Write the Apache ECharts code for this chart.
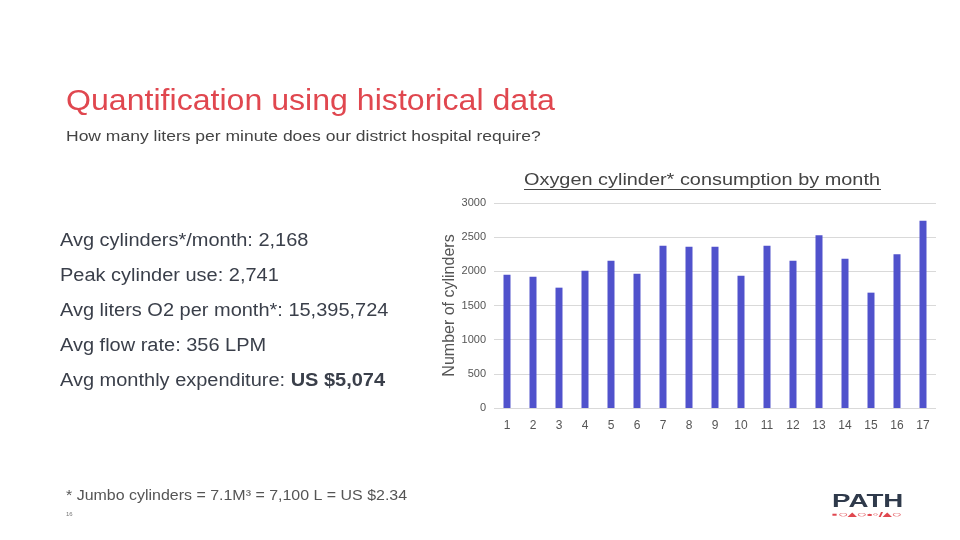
<!DOCTYPE html>
<html>
<head>
<meta charset="utf-8">
<style>
  html, body { margin: 0; padding: 0; background: #fff; }
  #main { width: 960px; height: 540px; }
</style>
<script src="https://cdn.jsdelivr.net/npm/echarts@6/dist/echarts.min.js"></script>
</head>
<body>
<div id="main"></div>
<script>
// months 1..17 and cylinders used per month
var months = ['1', '2', '3', '4', '5', '6', '7', '8', '9', '10', '11', '12', '13', '14', '15', '16', '17'];
var cylinders = [1951, 1922, 1761, 2010, 2156, 1966, 2376, 2361, 2361, 1937, 2376, 2156, 2527, 2185, 1688, 2249, 2741];
var yTicks = [0, 500, 1000, 1500, 2000, 2500, 3000];

var facts = [
    'Avg cylinders*/month: 2,168',
    'Peak cylinder use: 2,741',
    'Avg liters O2 per month*: 15,395,724',
    'Avg flow rate: 356 LPM',
    'Avg monthly expenditure: {b|US $5,074}'
];

var font = '"Liberation Sans", Arial, sans-serif';
var chart = echarts.init(document.getElementById('main'));

// text is a bit wider than Liberation Sans in the slide, so stretch it
function label(x, y, text, size, color, sx, extra) {
    var style = {
        text: text, x: 0, y: 0, fill: color, font: size + 'px ' + font,
        textVerticalAlign: 'middle', verticalAlign: 'middle'
    };
    if (extra) {
        for (var k in extra) style[k] = extra[k];
    }
    return { type: 'text', x: x, y: y, scaleX: sx || 1, style: style };
}

var graphics = [
    label(66, 102, 'Quantification using historical data', 30, '#e0474f', 1.07),
    label(66, 137, 'How many liters per minute does our district hospital require?', 14, '#444', 1.25),
    label(524, 180, 'Oxygen cylinder* consumption by month', 17, '#444', 1.17),
    {
        // underline for the chart title
        type: 'rect', shape: { x: 524, y: 189, width: 357, height: 1 },
        style: { fill: '#444' }
    },
    label(66, 496, '* Jumbo cylinders = 7.1M\u00b3 = 7,100 L = US $2.34', 14, '#555', 1.14),
    label(66, 514, '16', 6, '#777', 1),
    label(832, 502, 'PATH', 18, '#2f3a4b', 1.54, { font: 'bold 18px ' + font }),
    label(832, 515, '\u25aa\u25cb\u25b4\u25cb\u2022\u25e6/\u25b4\u25cb', 8, '#e0474f', 2.1, { font: 'bold 8px ' + font })
];

facts.forEach(function (t, i) {
    graphics.push(label(60, 241 + i * 35, t, 18, '#3a3f4a', 1.11, {
        rich: { b: { fontWeight: 'bold', fontSize: 18, fontFamily: font, fill: '#3a3f4a', color: '#3a3f4a' } }
    }));
});

var option = {
    animation: false,
    grid: { left: 494, right: 24, top: 203, bottom: 132 },
    xAxis: {
        type: 'category',
        data: months,
        axisLine: { show: false },
        axisTick: { show: false },
        axisLabel: { color: '#555', fontSize: 12, fontFamily: font, margin: 12 }
    },
    yAxis: {
        type: 'value',
        min: yTicks[0],
        max: yTicks[yTicks.length - 1],
        interval: 500,
        name: 'Number of cylinders',
        nameLocation: 'middle',
        nameGap: 34,
        nameTextStyle: { color: '#555', fontSize: 16, fontFamily: font },
        axisLine: { show: false },
        axisTick: { show: false },
        axisLabel: {
            color: '#555', fontSize: 11, fontFamily: font, margin: 8,
            formatter: function (v) { return String(v); }
        },
        splitLine: { lineStyle: { color: '#d9d9d9', width: 1 } }
    },
    series: [{
        type: 'bar',
        data: cylinders,
        barWidth: 7,
        itemStyle: { color: '#5052cc' }
    }],
    graphic: graphics
};

chart.setOption(option);
</script>
</body>
</html>
